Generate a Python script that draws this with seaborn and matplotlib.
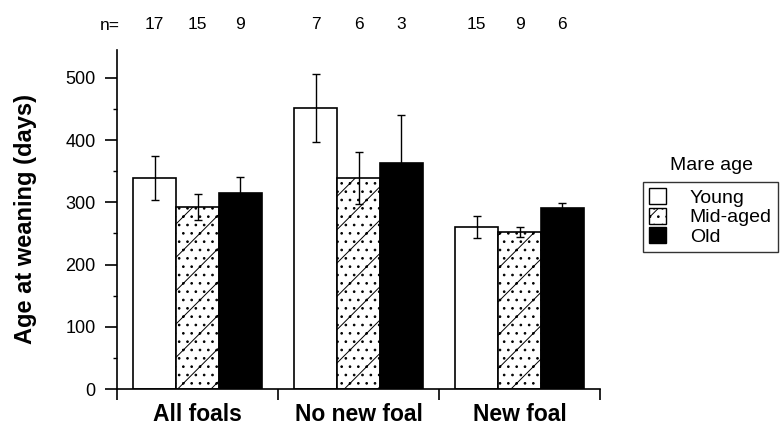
import matplotlib
matplotlib.use("Agg")
import matplotlib.pyplot as plt
import matplotlib.patches as mpatches
from matplotlib.ticker import MultipleLocator, FixedLocator
import seaborn as sns
import pandas as pd

# Weaning age by foal status and mare age class
groups = ["All foals", "No new foal", "New foal"]
mare_ages = ["Young", "Mid-aged", "Old"]
mean_young = [339, 452, 260]
mean_mid = [293, 339, 252]
mean_old = [315, 363, 291]
se_young = [35, 55, 18]
se_mid = [21, 42, 8]
se_old = [26, 77, 8]
n_young = [17, 7, 15]
n_mid = [15, 6, 9]
n_old = [9, 3, 6]

means = {"Young": mean_young, "Mid-aged": mean_mid, "Old": mean_old}
ses = {"Young": se_young, "Mid-aged": se_mid, "Old": se_old}
counts = {"Young": n_young, "Mid-aged": n_mid, "Old": n_old}

rows = []
for age in mare_ages:
    for g, m in zip(groups, means[age]):
        rows.append({"group": g, "age": age, "days": m})
df = pd.DataFrame(rows)

sns.set_theme(style="ticks")
plt.rcParams["font.family"] = ["Liberation Sans", "DejaVu Sans"]
plt.rcParams["text.color"] = "black"
plt.rcParams["axes.labelcolor"] = "black"
plt.rcParams["xtick.color"] = "black"
plt.rcParams["ytick.color"] = "black"
plt.rcParams["hatch.linewidth"] = 0.7
plt.rcParams["hatch.color"] = "black"

fills = {"Young": "white", "Mid-aged": "white", "Old": "black"}
hatches = {"Young": "", "Mid-aged": "/..", "Old": ""}

fig = plt.figure(figsize=(7.81, 4.28), dpi=100)
ax = fig.add_axes([117 / 781, 1 - 389 / 428, (600 - 117) / 781, (389 - 50) / 428])

sns.barplot(data=df, x="group", y="days", hue="age", order=groups,
            hue_order=mare_ages, palette=fills, edgecolor="black",
            linewidth=1.2, errorbar=None, width=0.8, legend=False, ax=ax)

for container, age in zip(ax.containers, mare_ages):
    xs = []
    for bar in container:
        bar.set_hatch(hatches[age])
        bar.set_edgecolor("black")
        xs.append(bar.get_x() + bar.get_width() / 2)
    ax.errorbar(xs, means[age], yerr=ses[age], fmt="none",
                ecolor="black", elinewidth=1.0, capsize=3, capthick=1.0,
                zorder=5)
    for x, n in zip(xs, counts[age]):
        ax.text(x, 1.074, str(n), transform=ax.get_xaxis_transform(),
                ha="center", va="center", fontsize=12.5)

fig.text(110 / 781, 1 - 25 / 428, "n=", ha="center", va="center",
         fontsize=12.5)

ax.set_xlim(-0.5, 2.5)
ax.set_ylim(0, 545)
ax.xaxis.set_major_locator(FixedLocator([-0.5, 0.5, 1.5, 2.5]))
ax.xaxis.set_minor_locator(FixedLocator([0, 1, 2]))
ax.set_xticklabels([], minor=False)
ax.set_xticklabels(groups, minor=True, fontsize=16.5, fontweight="bold")
ax.tick_params(axis="x", which="major", length=8, width=1.2, direction="out")
ax.tick_params(axis="x", which="minor", length=0, pad=10)

ax.yaxis.set_major_locator(MultipleLocator(100))
ax.yaxis.set_minor_locator(MultipleLocator(50))
ax.tick_params(axis="y", which="major", length=8.5, width=1.2, labelsize=13,
               pad=7)
ax.tick_params(axis="y", which="minor", length=3, width=1.0)

ax.set_xlabel("")
ax.set_ylabel("Age at weaning (days)", fontsize=17, fontweight="bold",
              labelpad=20)
sns.despine(ax=ax)
for side in ("left", "bottom"):
    ax.spines[side].set_linewidth(1.2)
    ax.spines[side].set_color("black")

handles = [mpatches.Patch(facecolor=fills[a], edgecolor="black",
                          hatch=hatches[a], linewidth=1.0) for a in mare_ages]
fig.text(711 / 781, 1 - 165 / 428, "Mare age", ha="center", va="center",
         fontsize=14)
leg = fig.legend(handles, mare_ages, loc="upper left",
                 bbox_to_anchor=(643 / 781, 1 - 182 / 428), fontsize=14,
                 frameon=True, fancybox=False, edgecolor="black",
                 handlelength=0.9, handleheight=0.9, handletextpad=1.2,
                 labelspacing=0.05, borderpad=0.3, borderaxespad=0)
leg.get_frame().set_linewidth(1.0)

fig.savefig("out.png", dpi=100)
